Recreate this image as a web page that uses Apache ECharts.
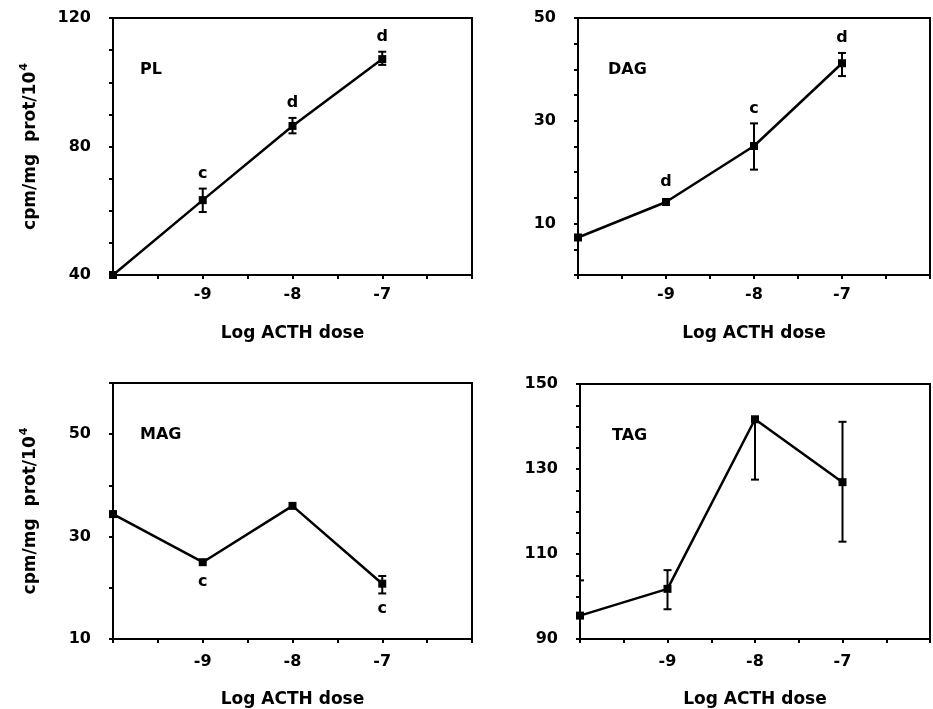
<!DOCTYPE html>
<html>
<head>
<meta charset="utf-8">
<script src="https://cdn.jsdelivr.net/npm/echarts@6/dist/echarts.min.js"></script>
<style>
  html, body { margin: 0; padding: 0; background: #fff; }
  #chart { width: 933px; height: 709px; }
</style>
</head>
<body>
<div id="chart"></div>
<script>
// log ACTH dose, same for every panel
const doses = [-10, -9, -8, -7]
const xTickLabels = [-9, -8, -7]

const plVals = [40, 63.3, 86.4, 107.2]
const plErr = [null, [59.6, 66.9], [84.1, 88.9], [105.4, 109.5]]
const plNotes = ['', 'c', 'd', 'd']

const dagVals = [7.3, 14.2, 25.1, 41.2]
const dagErr = [null, null, [20.5, 29.5], [38.7, 43.2]]
const dagNotes = ['', 'd', 'c', 'd']

const magVals = [34.4, 25.0, 36.0, 20.8]
const magErr = [null, null, null, [18.9, 22.3]]
const magNotes = ['', 'c', '', 'c']

const tagVals = [95.5, 101.8, 141.7, 126.9]
const tagErr = [[87, 103.8], [97.0, 106.2], [127.5, 141.7], [112.9, 141.1]]
const tagNotes = ['', '', '', '']

const yLabels = [
    [40, 80, 120],
    [10, 30, 50],
    [10, 30, 50],
    [90, 110, 130, 150]
]

const FONT = 'DejaVu Sans'

let panels = [
    { name: 'PL', vals: plVals, err: plErr, notes: plNotes, above: true, min: 40, max: 120, interval: 10,
      grid: { left: 113, top: 18, width: 359, height: 257 }, yName: true, nameGap: 50, titleDx: 27 },
    { name: 'DAG', vals: dagVals, err: dagErr, notes: dagNotes, above: true, min: 0, max: 50, interval: 5,
      grid: { left: 578, top: 18, width: 360, height: 257 }, yName: false, nameGap: 50, titleDx: 30 },
    { name: 'MAG', vals: magVals, err: magErr, notes: magNotes, above: false, min: 10, max: 60, interval: 10,
      grid: { left: 113, top: 383, width: 359, height: 257 }, yName: true, nameGap: 52, titleDx: 27 },
    { name: 'TAG', vals: tagVals, err: tagErr, notes: tagNotes, above: true, min: 90, max: 150, interval: 5,
      grid: { left: 580, top: 384, width: 360, height: 258 }, yName: false, nameGap: 52, titleDx: 32 }
]

let lineStyle = { stroke: '#000', lineWidth: 2 }

let errorBar = (params, api) => {
    let x = api.value(0)
    let lo = api.coord([x, api.value(1)])
    let hi = api.coord([x, api.value(2)])
    let w = 4
    return {
        type: 'group',
        children: [
            { type: 'line', shape: { x1: lo[0], y1: lo[1], x2: hi[0], y2: hi[1] }, style: lineStyle },
            { type: 'line', shape: { x1: lo[0] - w, y1: lo[1], x2: lo[0] + w, y2: lo[1] }, style: lineStyle },
            { type: 'line', shape: { x1: hi[0] - w, y1: hi[1], x2: hi[0] + w, y2: hi[1] }, style: lineStyle }
        ]
    }
}

// significance letters, placed just beyond the error bar (or the point)
let noteItem = above => (params, api) => {
    let p = api.coord([api.value(0), api.value(1)])
    let gap = api.value(3) ? 15 : 20
    return {
        type: 'text',
        x: p[0], y: above ? p[1] - gap : p[1] + gap,
        style: {
            text: api.value(2), fill: '#000', align: 'center', verticalAlign: 'middle',
            font: 'bold 16px "DejaVu Sans"'
        }
    }
}

let option = {
    animation: false,
    backgroundColor: '#fff',
    title: panels.map(p => ({
        text: p.name,
        left: p.grid.left + p.titleDx,
        top: p.grid.top + 44,
        padding: 0,
        textStyle: { fontFamily: FONT, fontWeight: 'bold', fontSize: 16, color: '#000' }
    })),
    grid: panels.map(p => Object.assign({
        show: true, borderColor: '#000', borderWidth: 2, backgroundColor: 'transparent'
    }, p.grid)),
    xAxis: panels.map((p, i) => ({
        type: 'value', gridIndex: i, min: -10, max: -6, interval: 0.5,
        name: 'Log ACTH dose', nameLocation: 'middle', nameGap: p.nameGap,
        nameTextStyle: { fontFamily: FONT, fontWeight: 'bold', fontSize: 17, color: '#000' },
        axisLine: { lineStyle: { color: '#000', width: 2 } },
        axisTick: { length: 4, lineStyle: { color: '#000', width: 2 } },
        splitLine: { show: false },
        axisLabel: {
            margin: i < 2 ? 12 : 15,
            fontFamily: FONT, fontWeight: 'bold', fontSize: 16, color: '#000',
            formatter: v => xTickLabels.includes(v) ? String(v) : ''
        }
    })),
    yAxis: panels.map((p, i) => ({
        type: 'value', gridIndex: i, min: p.min, max: p.max, interval: p.interval,
        name: p.yName ? '{a|cpm/mg  prot/10}{s|4}' : '',
        nameLocation: 'middle', nameGap: 71,
        nameTextStyle: {
            rich: {
                a: { fontFamily: FONT, fontWeight: 'bold', fontSize: 17, color: '#000' },
                s: { fontFamily: FONT, fontWeight: 'bold', fontSize: 11, color: '#000', verticalAlign: 'top', padding: [0, 0, 12, 1] }
            }
        },
        axisLine: { lineStyle: { color: '#000', width: 2 } },
        axisTick: { length: 4, lineStyle: { color: '#000', width: 2 } },
        splitLine: { show: false },
        axisLabel: {
            margin: 22,
            fontFamily: FONT, fontWeight: 'bold', fontSize: 16, color: '#000',
            formatter: v => yLabels[i].includes(v) ? String(v) : ''
        }
    })),
    series: []
}

panels.forEach((p, i) => {
    option.series.push({
        type: 'custom', xAxisIndex: i, yAxisIndex: i, clip: true,
        renderItem: errorBar,
        data: p.err.map((e, k) => e ? [doses[k], e[0], e[1]] : null).filter(d => d)
    })
    option.series.push({
        type: 'line', xAxisIndex: i, yAxisIndex: i,
        symbol: 'rect', symbolSize: 8,
        lineStyle: { color: '#000', width: 2.5 },
        itemStyle: { color: '#000' },
        data: p.vals.map((v, k) => [doses[k], v])
    })
    // anchor each letter at the end of its error bar
    option.series.push({
        type: 'custom', xAxisIndex: i, yAxisIndex: i,
        renderItem: noteItem(p.above),
        data: p.notes.map((n, k) => {
            if (!n) return null
            let e = p.err[k]
            let anchor = e ? (p.above ? e[1] : e[0]) : p.vals[k]
            return [doses[k], anchor, n, e ? 1 : 0]
        }).filter(d => d)
    })
})

let el = document.getElementById('chart')
let chart = echarts.init(el)
chart.setOption(option)
</script>
</body>
</html>
